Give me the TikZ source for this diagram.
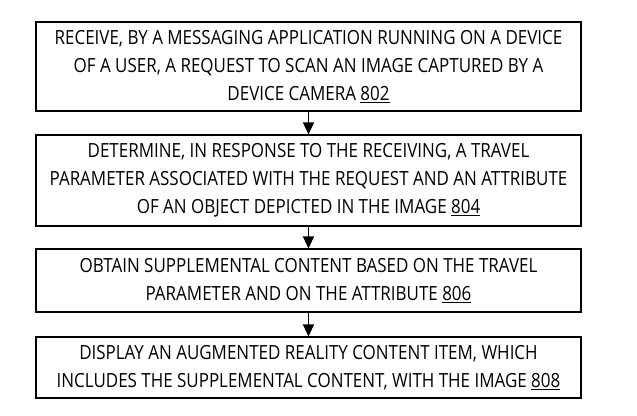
\documentclass[tikz,border=0pt]{standalone}
\usepackage{fontspec}
\setmainfont[FakeStretch=0.87]{Open Sans}
\usetikzlibrary{arrows.meta}

\tikzset{
  stepbox/.style={draw, line width=1.1pt, minimum width=545pt, align=center,
    font=\fontsize{19.5}{28}\selectfont, inner sep=0pt},
  flow/.style={line width=1.1pt, -{Triangle[length=12pt,width=11pt]}}
}

\begin{document}
\begin{tikzpicture}[x=1pt,y=-1pt]
      \useasboundingbox (0,0) rectangle (637,415);

      \node[stepbox, minimum height=89pt] (s802) at (308.5, 66.5)
        {RECEIVE, BY A MESSAGING APPLICATION RUNNING ON A DEVICE\\
         OF A USER, A REQUEST TO SCAN AN IMAGE CAPTURED BY A\\
         DEVICE CAMERA \underline{802}};
      \node[stepbox, minimum height=91pt] (s804) at (308.5, 180.5)
        {DETERMINE, IN RESPONSE TO THE RECEIVING, A TRAVEL\\
         PARAMETER ASSOCIATED WITH THE REQUEST AND AN ATTRIBUTE\\
         OF AN OBJECT DEPICTED IN THE IMAGE \underline{804}};
      \node[stepbox, minimum height=63pt] (s806) at (308.5, 280.5)
        {OBTAIN SUPPLEMENTAL CONTENT BASED ON THE TRAVEL\\
         PARAMETER AND ON THE ATTRIBUTE \underline{806}};
      \node[stepbox, minimum height=61pt] (s808) at (308.5, 367.5)
        {DISPLAY AN AUGMENTED REALITY CONTENT ITEM, WHICH\\
         INCLUDES THE SUPPLEMENTAL CONTENT, WITH THE IMAGE \underline{808}};

      \draw[flow] (s802) -- (s804);
      \draw[flow] (s804) -- (s806);
      \draw[flow] (s806) -- (s808);
    \end{tikzpicture}
\end{document}
